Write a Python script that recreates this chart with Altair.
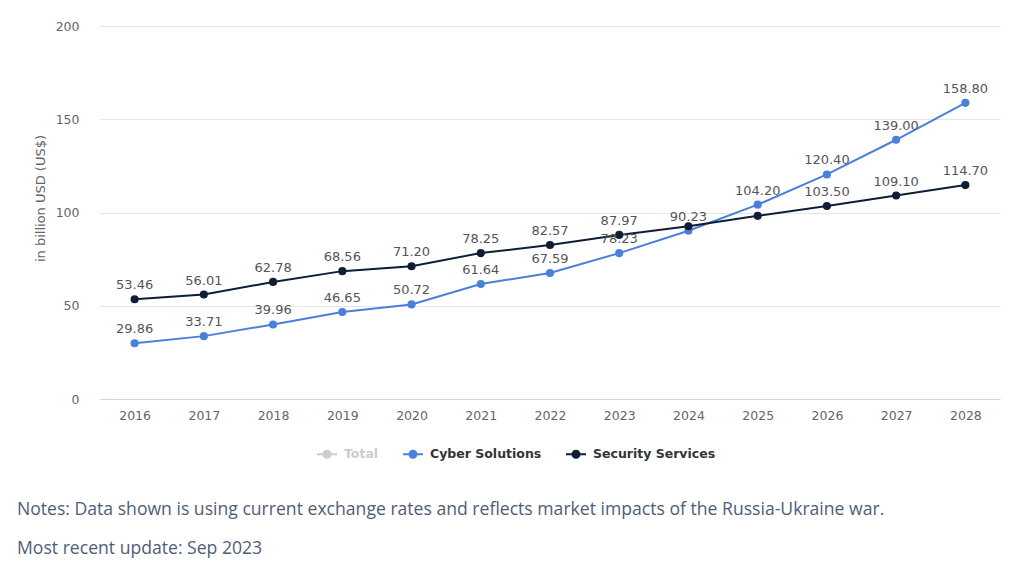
import altair as alt
import pandas as pd

years = [str(y) for y in range(2016, 2029)]
cyber = [29.86, 33.71, 39.96, 46.65, 50.72, 61.64, 67.59, 78.23, 90.23, 104.20, 120.40, 139.00, 158.80]
security = [53.46, 56.01, 62.78, 68.56, 71.20, 78.25, 82.57, 87.97, 92.6, 98.2, 103.50, 109.10, 114.70]
cyber_show = [True] * 13
security_show = [True] * 8 + [False, False] + [True] * 3

series_names = ["Total", "Cyber Solutions", "Security Services"]
series_colors = ["#cccccc", "#4a7fdc", "#0e1e36"]

notes = [
    "Notes: Data shown is using current exchange rates and reflects market impacts of the Russia-Ukraine war.",
    "Most recent update: Sep 2023",
]

rows = []
for name, vals, show in [("Cyber Solutions", cyber, cyber_show), ("Security Services", security, security_show)]:
    for y, v, s in zip(years, vals, show):
        rows.append({"year": y, "value": v, "series": name, "label": f"{v:.2f}" if s else ""})
df = pd.DataFrame(rows)

color = alt.Color(
    "series:N",
    scale=alt.Scale(domain=series_names, range=series_colors),
    legend=alt.Legend(
        title=None,
        orient="none",
        legendX=216,
        legendY=417,
        direction="horizontal",
        symbolType="M-1,0L1,0M-0.35,0A0.35,0.35 0 1,1 0.35,0A0.35,0.35 0 1,1 -0.35,0M-0.2,0A0.2,0.2 0 1,1 0.2,0A0.2,0.2 0 1,1 -0.2,0M-0.08,0A0.08,0.08 0 1,1 0.08,0A0.08,0.08 0 1,1 -0.08,0",
        symbolSize=400,
        symbolStrokeWidth=2,
        labelFont="DejaVu Sans",
        labelFontSize=12.5,
        labelFontWeight="bold",
        labelColor=alt.expr("datum.label == 'Total' ? '#cccccc' : '#333333'"),
        columnPadding=20,
        labelOffset=6,
    ),
)

x = alt.X(
    "year:O",
    title=None,
    scale=alt.Scale(paddingInner=0, paddingOuter=0),
    axis=alt.Axis(
        labelAngle=0,
        labelFont="DejaVu Sans",
        labelFontSize=12.5,
        labelColor="#666666",
        labelPadding=10,
        ticks=False,
        domain=True,
        domainColor="#ccd6eb",
        domainWidth=1,
        grid=False,
    ),
)
y = alt.Y(
    "value:Q",
    title="in billion USD (US$)",
    scale=alt.Scale(domain=[0, 200]),
    axis=alt.Axis(
        values=[0, 50, 100, 150, 200],
        labelFont="DejaVu Sans",
        labelFontSize=12.5,
        labelColor="#666666",
        labelPadding=21,
        titleFont="DejaVu Sans",
        titleFontSize=13,
        titleFontWeight="normal",
        titleColor="#666666",
        titlePadding=8,
        titleY=172,
        ticks=False,
        domain=False,
        grid=True,
        gridColor="#e6e6e6",
    ),
)

base = alt.Chart(df)
lines = base.mark_line(strokeWidth=2).encode(x=x, y=y, color=color)
points = base.mark_circle(size=66, opacity=1).encode(
    x="year:O", y="value:Q", color=alt.Color("series:N", legend=None)
)
labels = base.mark_text(dy=-14, font="DejaVu Sans", fontSize=13, color="#555555").encode(
    x="year:O", y="value:Q", text="label:N"
)

note_layers = []
for i, t in enumerate(notes):
    note_layers.append(
        alt.Chart(pd.DataFrame({"t": [t]}))
        .mark_text(align="left", baseline="middle", font="Open Sans", fontSize=17.6, color="#4f5d78")
        .encode(x=alt.value(-83), y=alt.value(484 + 39 * i), text="t:N")
    )

chart = (
    alt.layer(lines, points, labels, *note_layers)
    .properties(
        width=900,
        height=373,
        background="white",
        autosize=alt.AutoSizeParams(type="none"),
        padding={"left": 92, "top": 18, "right": 16, "bottom": 160},
    )
    .configure_view(stroke="transparent", strokeWidth=0)
)

chart.save("out.html", embed_options={"renderer": "svg", "actions": False})
